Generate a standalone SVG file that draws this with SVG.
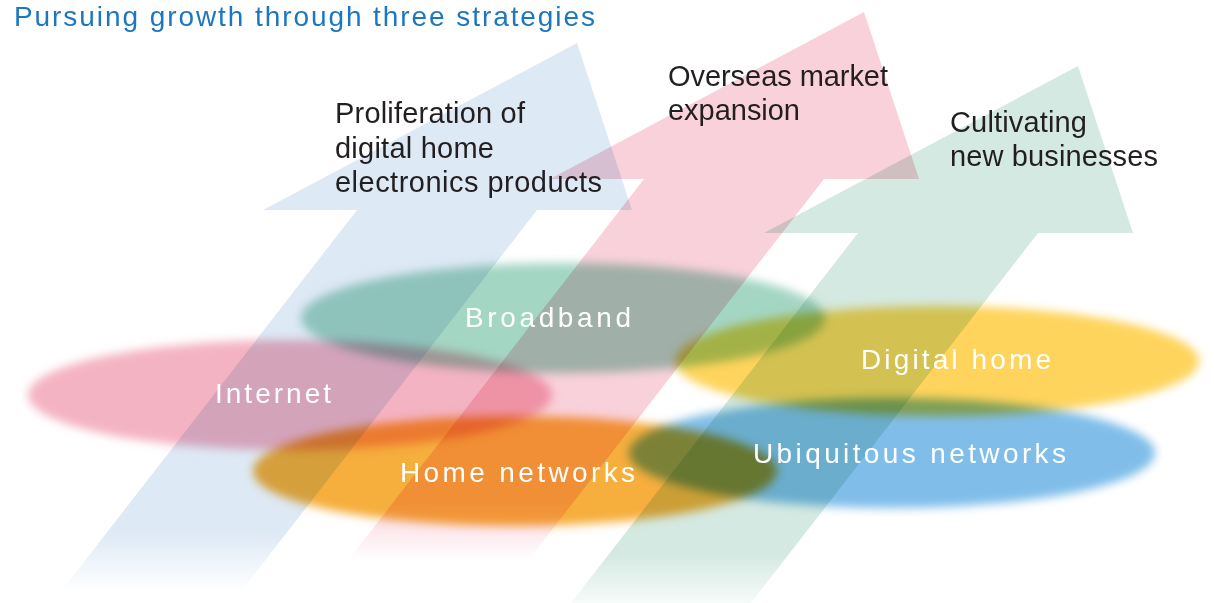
<svg xmlns="http://www.w3.org/2000/svg" xmlns:xlink="http://www.w3.org/1999/xlink" width="1214" height="603" viewBox="0 0 1214 603">
  <style>
    .mul { mix-blend-mode: multiply; }
    .lbl { font-family: "Liberation Sans", Arial, sans-serif; font-size: 28px; fill: #ffffff; }
    .cap { font-family: "Liberation Sans", Arial, sans-serif; font-size: 29px; fill: #231f20; }
    .title { font-family: "Liberation Sans", Arial, sans-serif; font-size: 28px; fill: #1d77bf; }
  </style>
  <defs>
    <path id="arrow" d="M577,43 L632,210 L537,210 L219,620 L39,620 L357,210 L263,210 Z"/>
    <linearGradient id="gBlue" gradientUnits="userSpaceOnUse" x1="0" y1="210" x2="0" y2="592">
      <stop offset="0" stop-color="#dde9f5"/>
      <stop offset="0.84" stop-color="#dde9f5"/>
      <stop offset="1" stop-color="#dde9f5" stop-opacity="0"/>
    </linearGradient>
    <linearGradient id="gPink" gradientUnits="userSpaceOnUse" x1="0" y1="210" x2="0" y2="592">
      <stop offset="0" stop-color="#f9d1db"/>
      <stop offset="0.84" stop-color="#f9d1db"/>
      <stop offset="1" stop-color="#f9d1db" stop-opacity="0"/>
    </linearGradient>
    <linearGradient id="gGreen" gradientUnits="userSpaceOnUse" x1="0" y1="210" x2="0" y2="592">
      <stop offset="0" stop-color="#d4e9e1"/>
      <stop offset="0.84" stop-color="#d4e9e1"/>
      <stop offset="1" stop-color="#d4e9e1" stop-opacity="0"/>
    </linearGradient>
    <filter id="soft" x="-10%" y="-30%" width="120%" height="160%">
      <feGaussianBlur stdDeviation="5"/>
    </filter>
  </defs>

  <rect x="0" y="0" width="1214" height="603" fill="#ffffff"/>

  <text class="title" x="14" y="26" textLength="581" lengthAdjust="spacing">Pursuing growth through three strategies</text>

  <g id="arrows">
    <use id="arrow-proliferation" class="mul" xlink:href="#arrow" href="#arrow" fill="url(#gBlue)"/>
    <use id="arrow-overseas" class="mul" xlink:href="#arrow" href="#arrow" fill="url(#gPink)" transform="translate(287,-31)"/>
    <use id="arrow-cultivating" class="mul" xlink:href="#arrow" href="#arrow" fill="url(#gGreen)" transform="translate(501,23)"/>
  </g>

  <g id="ellipses">
    <g id="internet">
      <ellipse class="mul" cx="290" cy="395" rx="262" ry="55" fill="#f4b3c2" filter="url(#soft)"/>
    </g>
    <g id="broadband">
      <ellipse class="mul" cx="563" cy="318" rx="262" ry="55" fill="#a4d6c4" filter="url(#soft)"/>
    </g>
    <g id="home-networks">
      <ellipse class="mul" cx="515" cy="471" rx="262" ry="55" fill="#f6ae3c" filter="url(#soft)"/>
    </g>
    <g id="digital-home">
      <ellipse class="mul" cx="937" cy="361" rx="262" ry="55" fill="#fed45c" filter="url(#soft)"/>
    </g>
    <g id="ubiquitous-networks">
      <ellipse class="mul" cx="892" cy="453" rx="263" ry="55" fill="#80bee9" filter="url(#soft)"/>
    </g>
  </g>

  <g id="labels">
    <text class="lbl" x="215" y="403" textLength="116" lengthAdjust="spacing">Internet</text>
    <text class="lbl" x="465" y="327" textLength="166" lengthAdjust="spacing">Broadband</text>
    <text class="lbl" x="400" y="482" textLength="235" lengthAdjust="spacing">Home networks</text>
    <text class="lbl" x="861" y="369" textLength="190" lengthAdjust="spacing">Digital home</text>
    <text class="lbl" x="753" y="463" textLength="313" lengthAdjust="spacing">Ubiquitous networks</text>
  </g>

  <g id="strategy-captions">
    <text class="cap" x="335" y="123" textLength="190" lengthAdjust="spacing">Proliferation of</text>
    <text class="cap" x="335" y="158" textLength="159" lengthAdjust="spacing">digital home</text>
    <text class="cap" x="335" y="192" textLength="267" lengthAdjust="spacing">electronics products</text>
    <text class="cap" x="668" y="86" textLength="220" lengthAdjust="spacing">Overseas market</text>
    <text class="cap" x="668" y="120" textLength="132" lengthAdjust="spacing">expansion</text>
    <text class="cap" x="950" y="132" textLength="137" lengthAdjust="spacing">Cultivating</text>
    <text class="cap" x="950" y="166" textLength="208" lengthAdjust="spacing">new businesses</text>
  </g>
</svg>
